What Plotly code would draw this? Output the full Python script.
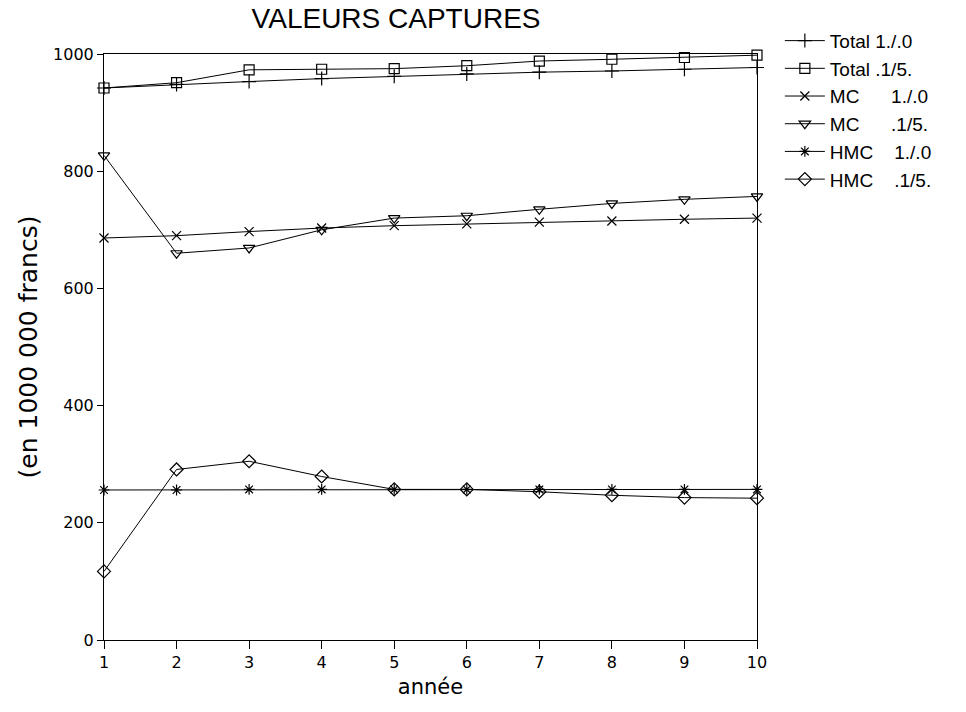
import plotly.graph_objects as go

annees = [1, 2, 3, 4, 5, 6, 7, 8, 9, 10]

total_1_0 = [942, 948, 953, 958, 962, 966, 969, 971, 974, 977]
total_1_5 = [942, 951, 973, 974, 975, 980, 988, 991, 994, 998]
mc_1_0 = [686, 690, 697, 703, 707, 710, 713, 715, 718, 720]
mc_1_5 = [827, 660, 669, 700, 720, 724, 735, 745, 752, 757]
hmc_1_0 = [256, 256, 257, 257, 257, 257, 257, 257, 257, 257]
hmc_1_5 = [117, 291, 305, 279, 257, 257, 253, 247, 243, 242]

NB = "\u00a0"
series = [
    ("Total 1./.0", total_1_0, "cross-thin-open", 10),
    ("Total .1/5.", total_1_5, "square-open", 10),
    ("MC" + NB * 6 + "1./.0", mc_1_0, "x-thin-open", 9),
    ("MC" + NB * 6 + ".1/5.", mc_1_5, "triangle-down-open", 10),
    ("HMC" + NB * 4 + "1./.0", hmc_1_0, "asterisk-open", 9),
    ("HMC" + NB * 4 + ".1/5.", hmc_1_5, "diamond-open", 10),
]

FONT = "Liberation Sans"
WIDE = "DejaVu Sans"
fig = go.Figure()
for name, vals, sym, sz in series:
    fig.add_trace(go.Scatter(
        x=annees, y=vals, name=name, mode="lines+markers",
        line=dict(color="black", width=1),
        marker=dict(symbol=sym, size=sz, color="black", line=dict(width=1.2, color="black")),
        cliponaxis=False,
    ))

fig.update_layout(
    width=966, height=712,
    margin=dict(l=104, r=209, t=54, b=72),
    paper_bgcolor="white", plot_bgcolor="white",
    font=dict(family=FONT, color="black", size=16),
    title=dict(text="VALEURS CAPTURES", x=0.41, xanchor="center", y=0.975, yanchor="middle",
               font=dict(family=FONT, size=28, color="black")),
    showlegend=True,
    legend=dict(x=1.035, y=1.055, xanchor="left", yanchor="top",
                font=dict(family=FONT, size=19, color="black"),
                bgcolor="rgba(0,0,0,0)", itemwidth=40, tracegroupgap=0),
    xaxis=dict(range=[1, 10], tickvals=annees, showgrid=False, zeroline=False,
               showline=True, linecolor="black", linewidth=1, mirror=True,
               ticks="outside", ticklen=8, tickcolor="black",
               title=dict(text="année", font=dict(family=WIDE, size=21), standoff=8),
               tickfont=dict(family=WIDE, size=16)),
    yaxis=dict(range=[0, 1000], tickvals=[0, 200, 400, 600, 800, 1000], showgrid=False,
               zeroline=False, showline=True, linecolor="black", linewidth=1, mirror=True,
               ticks="outside", ticklen=6, tickcolor="black",
               title=dict(text="(en 1000 000 francs)", font=dict(family=WIDE, size=25), standoff=8),
               tickfont=dict(family=WIDE, size=16)),
)

fig.write_html("out.html")
